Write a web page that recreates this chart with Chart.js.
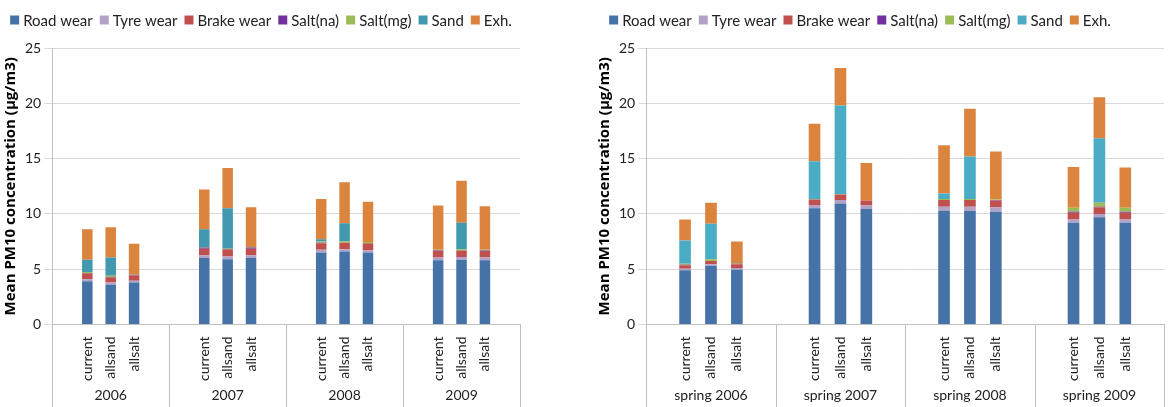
<!DOCTYPE html>
<html>
<head>
<meta charset="utf-8">
<script src="https://cdn.jsdelivr.net/npm/chart.js@4"></script>
<style>
  body { margin: 0; background: #fff; }
  .wrap { display: flex; width: 1172px; height: 407px; }
  .box { position: relative; width: 586px; height: 407px; }
</style>
</head>
<body>
<div class="wrap">
  <div class="box"><canvas id="left"></canvas></div>
  <div class="box"><canvas id="right"></canvas></div>
</div>
<script>
"use strict";

const scenarios = ["current", "allsand", "allsalt"];
const groupsLeft = ["2006", "2007", "2008", "2009"];
const groupsRight = ["spring 2006", "spring 2007", "spring 2008", "spring 2009"];
const seriesNames = ["Road wear", "Tyre wear", "Brake wear", "Salt(na)", "Salt(mg)", "Sand", "Exh."];

// per bar: current, allsand, allsalt for each year (12 values)
const roadL  = [3.9, 3.6, 3.8,  6.0, 5.9, 6.0,  6.5, 6.6, 6.5,  5.8, 5.85, 5.8];
const tyreL  = [0.2, 0.2, 0.15, 0.25, 0.25, 0.25, 0.25, 0.2, 0.2, 0.25, 0.25, 0.25];
const brakeL = [0.5, 0.45, 0.5, 0.6, 0.65, 0.6, 0.6, 0.6, 0.65, 0.6, 0.6, 0.6];
const naL    = [0.05, 0.05, 0.05, 0.1, 0, 0.1, 0.05, 0, 0, 0.05, 0, 0.05];
const mgL    = [0.1, 0.1, 0.05, 0.05, 0.05, 0.05, 0.1, 0.1, 0.1, 0.05, 0.1, 0.05];
const sandL  = [1.1, 1.65, 0, 1.6, 3.65, 0, 0.2, 1.65, 0, 0, 2.4, 0];
const exhL   = [2.75, 2.75, 2.75, 3.6, 3.65, 3.6, 3.65, 3.7, 3.65, 4.0, 3.8, 3.95];

const roadR  = [4.9, 5.3, 4.95, 10.5, 10.95, 10.45, 10.25, 10.25, 10.2, 9.2, 9.7, 9.2];
const tyreR  = [0.15, 0.15, 0.15, 0.3, 0.3, 0.3, 0.4, 0.4, 0.4, 0.3, 0.3, 0.3];
const brakeR = [0.3, 0.3, 0.35, 0.5, 0.5, 0.45, 0.6, 0.6, 0.6, 0.6, 0.6, 0.6];
const naR    = [0.05, 0, 0.05, 0, 0, 0, 0, 0, 0.05, 0.1, 0.05, 0.1];
const mgR    = [0.1, 0.15, 0.05, 0.05, 0.05, 0, 0.1, 0.1, 0.05, 0.35, 0.35, 0.35];
const sandR  = [2.1, 3.2, 0, 3.4, 8.0, 0, 0.5, 3.85, 0, 0, 5.85, 0];
const exhR   = [1.9, 1.9, 1.95, 3.4, 3.4, 3.4, 4.35, 4.3, 4.35, 3.7, 3.7, 3.65];

const colorsL = ["#4572A7", "#B3A2C7", "#C0504D", "#7030A0", "#9BBB59", "#4198AF", "#DB843D"];
const colorsR = ["#4572A7", "#B3A2C7", "#C0504D", "#7030A0", "#9BBB59", "#4BACC6", "#DB843D"];

const FONT = "Lato, 'Open Sans', sans-serif";

// 5 slots per group: blank, 3 scenarios, blank
function slotLabels(groups) {
  const out = [];
  groups.forEach(() => { out.push(""); scenarios.forEach((s) => out.push(s)); out.push(""); });
  return out;
}
function slotData(vals, groups) {
  const out = [];
  groups.forEach((g, gi) => {
    out.push(null);
    for (let i = 0; i < 3; i++) out.push(vals[gi * 3 + i]);
    out.push(null);
  });
  return out;
}

const groupPlugin = {
  id: "groups",
  afterDraw(chart, args, opts) {
    const { ctx, scales: { x }, chartArea } = chart;
    const groups = opts.groups;
    const bottom = chart.height;
    ctx.save();
    ctx.strokeStyle = "#BFBFBF";
    ctx.lineWidth = 1;
    for (let i = 0; i <= groups.length; i++) {
      const px = Math.round(i === 0 ? chartArea.left : x.getPixelForValue(i * 5 - 0.5)) + 0.5;
      ctx.beginPath(); ctx.moveTo(px, chartArea.bottom); ctx.lineTo(px, bottom); ctx.stroke();
    }
    ctx.fillStyle = "#222";
    ctx.font = "14px " + FONT;
    ctx.textAlign = "center";
    ctx.textBaseline = "middle";
    groups.forEach((g, i) => ctx.fillText(g, x.getPixelForValue(i * 5 + 2), bottom - 12));

    // legend row
    ctx.font = "15px " + FONT;
    ctx.textAlign = "left";
    const items = chart.data.datasets.map((d) => ({ t: d.label, c: d.backgroundColor, w: ctx.measureText(d.label).width }));
    const gap = 7, box = 9;
    const total = items.reduce((s, it) => s + box + 4 + it.w, 0) + gap * (items.length - 1);
    let lx = opts.legendCenter - total / 2;
    const ly = 20;
    items.forEach((it) => {
      ctx.fillStyle = it.c;
      ctx.fillRect(lx, ly - box / 2, box, box);
      ctx.fillStyle = "#222";
      ctx.fillText(it.t, lx + box + 4, ly + 1);
      lx += box + 4 + it.w + gap;
    });
    ctx.restore();
  },
};

function build(id, groups, series, colors, pad, legendCenter) {
  new Chart(document.getElementById(id), {
    type: "bar",
    data: {
      labels: slotLabels(groups),
      datasets: series.map((vals, i) => ({
        label: seriesNames[i],
        data: slotData(vals, groups),
        backgroundColor: colors[i],
        categoryPercentage: 1,
        barPercentage: 0.45,
      })),
    },
    options: {
      responsive: true,
      maintainAspectRatio: false,
      animation: false,
      layout: { padding: pad },
      plugins: {
        tooltip: { enabled: false },
        legend: { display: false },
        groups: { groups, legendCenter },
      },
      scales: {
        x: {
          stacked: true,
          grid: { display: false },
          border: { color: "#BFBFBF" },
          ticks: {
            autoSkip: false, maxRotation: 90, minRotation: 90,
            color: "#222", font: { size: 14, family: FONT }, padding: 4,
          },
        },
        y: {
          stacked: true, min: 0, max: 25,
          ticks: { stepSize: 5, color: "#222", font: { size: 14, family: FONT } },
          grid: { color: "#D9D9D9" },
          border: { color: "#BFBFBF" },
          title: {
            display: true, text: "Mean PM10 concentration (µg/m3)",
            color: "#000", font: { size: 15, weight: "bold", family: "'Open Sans', sans-serif" },
            padding: 2,
          },
        },
      },
    },
    plugins: [groupPlugin],
  });
}

build("left", groupsLeft, [roadL, tyreL, brakeL, naL, mgL, sandL, exhL], colorsL,
  { left: 0, right: 66, top: 48, bottom: 22 }, 261);
build("right", groupsRight, [roadR, tyreR, brakeR, naR, mgR, sandR, exhR], colorsR,
  { left: 8, right: 0, top: 48, bottom: 22 }, 274);
</script>
</body>
</html>
